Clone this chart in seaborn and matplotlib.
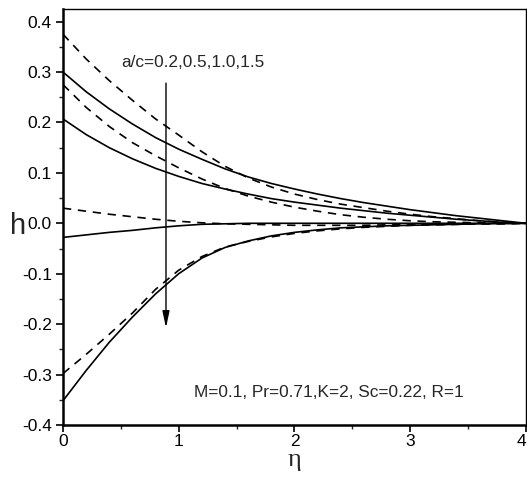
import numpy as np
import pandas as pd
import matplotlib
matplotlib.use("Agg")
import matplotlib.pyplot as plt
import seaborn as sns
from matplotlib.ticker import MultipleLocator

sns.set_style("ticks")
plt.rcParams['font.family'] = ['Liberation Sans', 'DejaVu Sans']

eta = [0.0, 0.2, 0.4, 0.6, 0.8, 1.0, 1.2, 1.4, 1.6, 1.8, 2.0,
       2.2, 2.4, 2.6, 2.8, 3.0, 3.2, 3.4, 3.6, 3.8, 4.0]

# solid curves (a/c = 0.2, 0.5, 1.0, 1.5)
solid_1 = [0.300, 0.261, 0.227, 0.197, 0.170, 0.147, 0.127, 0.108, 0.092, 0.079, 0.068,
           0.058, 0.049, 0.041, 0.034, 0.027, 0.021, 0.015, 0.010, 0.005, 0.000]
solid_2 = [0.207, 0.176, 0.150, 0.128, 0.109, 0.093, 0.079, 0.068, 0.058, 0.049, 0.042,
           0.036, 0.030, 0.025, 0.020, 0.016, 0.012, 0.008, 0.005, 0.002, 0.000]
solid_3 = [-0.028, -0.023, -0.018, -0.014, -0.009, -0.005, -0.002, -0.001, 0.000, 0.000, 0.000,
           0.000, 0.000, 0.000, 0.000, 0.000, 0.000, 0.000, 0.000, 0.000, 0.000]
solid_4 = [-0.352, -0.292, -0.236, -0.186, -0.140, -0.100, -0.069, -0.048, -0.035, -0.025, -0.018,
           -0.013, -0.009, -0.007, -0.005, -0.004, -0.003, -0.002, -0.001, -0.0005, 0.000]

# dashed curves
dashed_1 = [0.375, 0.326, 0.283, 0.244, 0.207, 0.175, 0.142, 0.113, 0.090, 0.072, 0.058,
            0.047, 0.038, 0.031, 0.024, 0.018, 0.013, 0.009, 0.005, 0.002, 0.000]
dashed_2 = [0.275, 0.230, 0.192, 0.160, 0.134, 0.110, 0.088, 0.069, 0.054, 0.042, 0.032,
            0.024, 0.017, 0.012, 0.008, 0.005, 0.003, 0.002, 0.001, 0.000, 0.000]
dashed_3 = [0.030, 0.024, 0.018, 0.013, 0.008, 0.004, 0.001, -0.001, -0.002, -0.003, -0.004,
            -0.004, -0.004, -0.004, -0.003, -0.003, -0.002, -0.002, -0.001, -0.001, 0.000]
dashed_4 = [-0.298, -0.260, -0.220, -0.178, -0.131, -0.093, -0.066, -0.047, -0.036, -0.027, -0.020,
            -0.015, -0.011, -0.008, -0.006, -0.004, -0.003, -0.002, -0.001, -0.0005, 0.000]

solid_curves = [solid_1, solid_2, solid_3, solid_4]
dashed_curves = [dashed_1, dashed_2, dashed_3, dashed_4]

y_ticks = [-0.4, -0.3, -0.2, -0.1, 0.0, 0.1, 0.2, 0.3, 0.4]
y_tick_labels = ["-0.4", "-0.3", "-0.2", "-0.1", "0.0", "0.1", "0.2", "0.3", "0.4"]
x_ticks = [0, 1, 2, 3, 4]
x_tick_labels = ["0", "1", "2", "3", "4"]

label_ac = "a/c=0.2,0.5,1.0,1.5"
label_params = "M=0.1, Pr=0.71,K=2, Sc=0.22, R=1"

fig = plt.figure(figsize=(5.27, 4.90), dpi=100)
ax = fig.add_axes([0.1195, 0.1327, 0.998 - 0.1195, 0.9816 - 0.1327])

for ys in solid_curves:
    sns.lineplot(x=eta, y=ys, ax=ax, color='black', lw=1.2, linestyle='-')
for ys in dashed_curves:
    sns.lineplot(x=eta, y=ys, ax=ax, color='black', lw=1.2)
    ax.lines[-1].set_dashes([5, 4])

ax.set_xlim(0, 4)
ax.set_ylim(-0.4, 0.425)
ax.set_xticks(x_ticks)
ax.set_xticklabels(x_tick_labels)
ax.set_yticks(y_ticks)
ax.set_yticklabels(y_tick_labels)
ax.xaxis.set_minor_locator(MultipleLocator(0.5))
ax.yaxis.set_minor_locator(MultipleLocator(0.05))
ax.tick_params(which='major', direction='out', length=5, width=1.2, labelsize=12.5, colors='black')
ax.tick_params(axis='x', which='major', pad=1.5)
ax.tick_params(axis='y', which='major', pad=3)
ax.tick_params(which='minor', direction='out', length=3, width=1.0)
ax.tick_params(top=False, right=False)
# keep the last x tick label inside the figure
ax.get_xticklabels()[-1].set_horizontalalignment('right')

for s in ['left', 'bottom']:
    ax.spines[s].set_linewidth(1.8)
for s in ['top', 'right']:
    ax.spines[s].set_linewidth(1.0)
for s in ax.spines.values():
    s.set_color('black')

ax.set_xlabel("η", fontsize=19, family=['Liberation Serif', 'DejaVu Serif'], labelpad=0)
ax.set_ylabel("h", fontsize=21, rotation=0, va='baseline', ha='center')
ax.yaxis.set_label_coords(-0.097, 0.459)

ax.annotate('', xy=(0.89, -0.207), xytext=(0.89, 0.278),
            arrowprops=dict(arrowstyle='-|>,head_length=0.7,head_width=0.15', color='black', lw=1.0,
                            shrinkA=0, shrinkB=0, mutation_scale=14))
ax.text(0.5, 0.318, label_ac, fontsize=12.4, ha='left', va='center')
ax.text(1.13, -0.336, label_params, fontsize=12.4, ha='left', va='center')

fig.savefig("out.png", dpi=100)
